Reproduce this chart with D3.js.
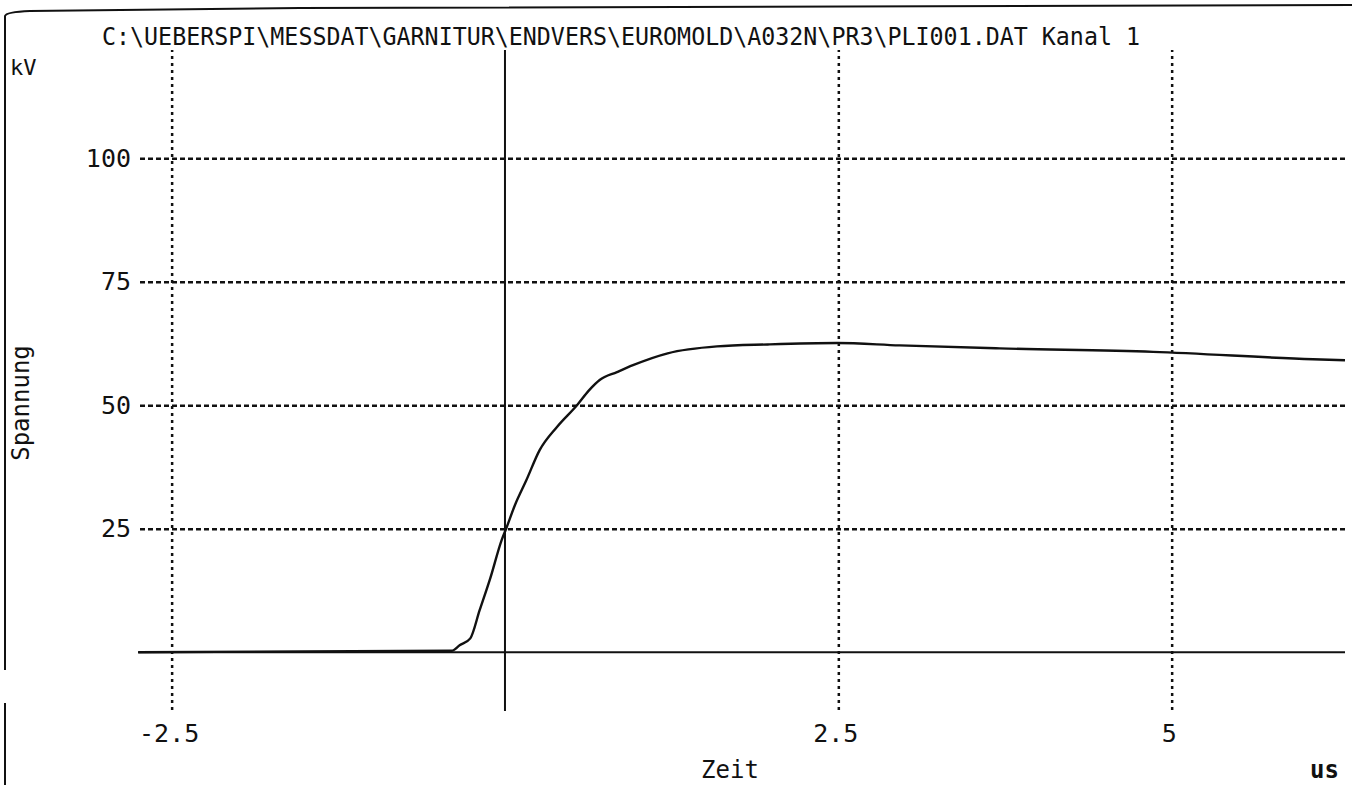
<!DOCTYPE html>
<html>
<head>
<meta charset="utf-8">
<script src="https://cdn.jsdelivr.net/npm/d3@7"></script>
<style>
  html, body { margin: 0; padding: 0; background: #fff; }
  svg { display: block; }
  text { font-family: "DejaVu Sans Mono", "Liberation Mono", monospace; fill: #111; }
</style>
</head>
<body>
<svg id="chart" width="1352" height="785"></svg>
<script>
// ---- data ----
const titleText = "C:\\UEBERSPI\\MESSDAT\\GARNITUR\\ENDVERS\\EUROMOLD\\A032N\\PR3\\PLI001.DAT Kanal 1";
const xTickValues = [-2.5, 2.5, 5];
const xTickLabels = ["-2.5", "2.5", "5"];
const yTickValues = [25, 50, 75, 100];
const yTickLabels = ["25", "50", "75", "100"];
const timeUs = [-2.75, -0.40, -0.34, -0.26, -0.19, -0.11, -0.025, 0.01, 0.075, 0.16, 0.26, 0.39, 0.54, 0.63, 0.71, 0.84, 0.96, 1.22, 1.59, 1.97, 2.49, 2.96, 3.71, 4.86, 6.06, 6.3];
const voltageKV = [0, 0.3, 1.4, 2.8, 8.5, 15.0, 22.7, 25.1, 29.8, 34.8, 40.9, 45.6, 50.0, 53.0, 55.1, 56.7, 58.1, 60.5, 61.9, 62.3, 62.6, 62.1, 61.5, 60.8, 59.3, 59.1];

const svg = d3.select("#chart");
const x = d3.scaleLinear().domain([-2.75, 6.3]).range([138.3, 1345]);
const y = d3.scaleLinear().domain([-11.7, 121.9]).range([710, 50]);

// page frame
svg.append("path")
  .attr("d", "M5,670 L5,16 Q6,12 30,11 L300,8 L1352,5")
  .attr("fill", "none").attr("stroke", "#111").attr("stroke-width", 2);
svg.append("line").attr("x1", 5).attr("x2", 5).attr("y1", 703).attr("y2", 785)
  .attr("stroke", "#111").attr("stroke-width", 2);

// horizontal dashed grid + y labels
const yAxis = d3.axisLeft(y)
  .tickValues(yTickValues)
  .tickFormat((d, i) => yTickLabels[i])
  .tickSize(-(1345 - 140))
  .tickPadding(9);
const gy = svg.append("g").attr("transform", "translate(140,0)").call(yAxis);
gy.select(".domain").remove();
gy.selectAll(".tick line").attr("stroke", "#111").attr("stroke-width", 2.5).attr("stroke-dasharray", "5,3");
gy.selectAll(".tick text").attr("font-size", 25).attr("font-family", "DejaVu Sans Mono").attr("fill", "#111");

// vertical dashed grid + x labels
const xAxis = d3.axisBottom(x)
  .tickValues(xTickValues)
  .tickFormat((d, i) => xTickLabels[i])
  .tickSize(-(710 - 50))
  .tickPadding(14);
const gx = svg.append("g").attr("transform", "translate(0,710)").call(xAxis);
gx.select(".domain").remove();
gx.selectAll(".tick line").attr("stroke", "#111").attr("stroke-width", 2.5).attr("stroke-dasharray", "3,4");
gx.selectAll(".tick text").attr("font-size", 25).attr("font-family", "DejaVu Sans Mono").attr("fill", "#111").attr("dx", -3);

// zero axes (solid)
svg.append("line").attr("x1", 138).attr("x2", 1345).attr("y1", y(0)).attr("y2", y(0))
  .attr("stroke", "#111").attr("stroke-width", 2);
svg.append("line").attr("x1", x(0)).attr("x2", x(0)).attr("y1", 50).attr("y2", 711)
  .attr("stroke", "#111").attr("stroke-width", 2);

// curve
const line = d3.line().x((d, i) => x(timeUs[i])).y((d, i) => y(voltageKV[i])).curve(d3.curveMonotoneX);
svg.append("path").datum(voltageKV)
  .attr("d", line)
  .attr("fill", "none").attr("stroke", "#111").attr("stroke-width", 2.4);

// texts
svg.append("text").attr("x", 102).attr("y", 45).attr("font-size", 24)
  .attr("textLength", 1038).attr("lengthAdjust", "spacingAndGlyphs").text(titleText);
svg.append("text").attr("x", 10).attr("y", 75).attr("font-size", 22).text("kV");
svg.append("text").attr("transform", "translate(29,403) rotate(-90)")
  .attr("text-anchor", "middle").attr("font-size", 24).text("Spannung");
svg.append("text").attr("x", 730).attr("y", 778).attr("text-anchor", "middle").attr("font-size", 24).text("Zeit");
svg.append("text").attr("x", 1310).attr("y", 778).attr("font-size", 24).attr("font-weight", "bold").text("us");
</script>
</body>
</html>
